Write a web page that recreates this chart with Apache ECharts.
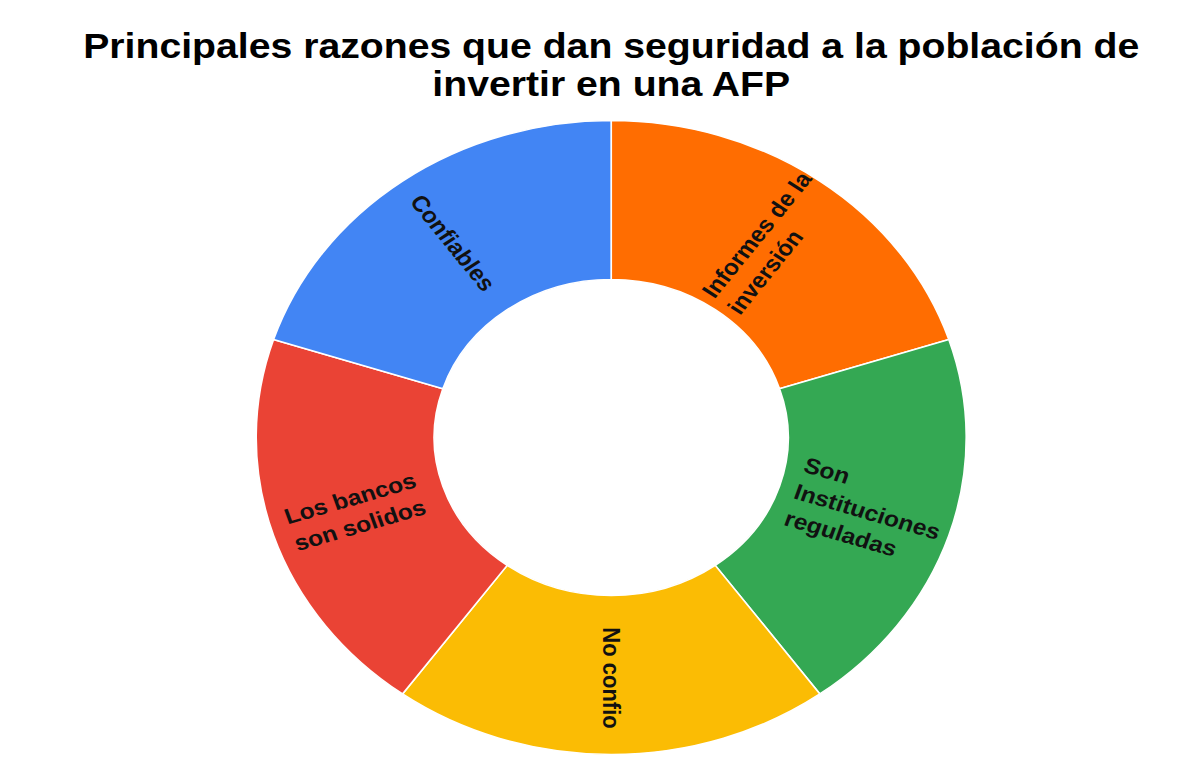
<!DOCTYPE html>
<html>
<head>
<meta charset="utf-8">
<script src="https://cdn.jsdelivr.net/npm/echarts@6/dist/echarts.min.js"></script>
<style>
  html, body { margin: 0; padding: 0; background: #ffffff; overflow: hidden; width: 1198px; height: 764px; }
  /* chart is drawn narrower and widened horizontally */
  #chart { position: absolute; left: 12px; top: 0; width: 1070px; height: 764px;
           transform: scaleX(1.12); transform-origin: 0 0; }
</style>
</head>
<body>
<div id="chart"></div>
<script>
// Reasons, listed clockwise from 12 o'clock
const categories = [
  'Informes de la\ninversión',
  'Son\nInstituciones\nreguladas',
  'No confio',
  'Los bancos\nson solidos',
  'Confiables'
];
// Share of answers (%)
const values = [20, 20, 20, 20, 20];
const colors = ['#FF6D01', '#34A853', '#FBBC04', '#EA4335', '#4285F4'];

const chart = echarts.init(document.getElementById('chart'), null, { renderer: 'svg' });

chart.setOption({
  backgroundColor: '#ffffff',
  animation: false,
  title: {
    text: 'Principales razones que dan seguridad a la población de\ninvertir en una AFP',
    left: 'center',
    top: 22,
    textStyle: {
      fontFamily: 'Liberation Sans, Arial, sans-serif',
      fontSize: 35,
      fontWeight: 'bold',
      color: '#000000',
      lineHeight: 38
    }
  },
  series: [{
    type: 'pie',
    center: ['50%', 437.5],
    radius: [158, 317],
    startAngle: 90,
    clockwise: true,
    silent: true,
    itemStyle: { borderColor: '#ffffff', borderWidth: 1.5 },
    label: {
      show: true,
      position: 'inside',
      rotate: 'radial',
      align: 'center',
      formatter: p => p.name.split('\n').map(s => '{l|' + s + '}').join('\n'),
      rich: {
        l: {
          fontFamily: 'Liberation Sans, Arial, sans-serif',
          fontSize: 22,
          fontWeight: 'bold',
          color: '#111111',
          lineHeight: 28,
          align: 'left'
        }
      }
    },
    labelLine: { show: false },
    data: categories.map((c, i) => ({
      name: c,
      value: values[i],
      itemStyle: { color: colors[i] }
    }))
  }]
});
</script>
</body>
</html>
